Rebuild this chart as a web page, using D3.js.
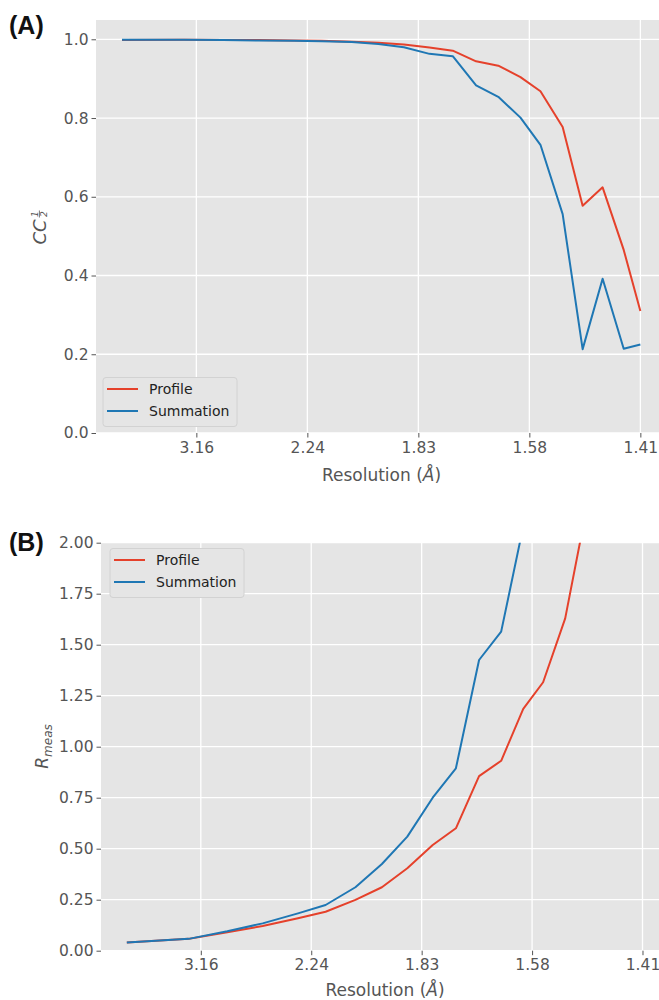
<!DOCTYPE html>
<html>
<head>
<meta charset="utf-8">
<script src="https://cdn.jsdelivr.net/npm/d3@7"></script>
<style>
    body { margin: 0; background: #fff; }
    svg { display: block; font-family: "DejaVu Sans", sans-serif; }
</style>
</head>
<body>
<svg id="chart" width="659" height="1000"></svg>
<script>
// x = 1/d^2, bins
var invResSq = [0.033, 0.089, 0.124, 0.156, 0.188, 0.213, 0.240, 0.264, 0.287, 0.310,
                0.331, 0.352, 0.372, 0.392, 0.410, 0.430, 0.448, 0.466, 0.485, 0.500];

// panel A : CC 1/2
var ccProfile   = [0.998, 0.999, 0.998, 0.998, 0.997, 0.996, 0.994, 0.991, 0.987, 0.979,
                   0.971, 0.944, 0.933, 0.904, 0.868, 0.777, 0.577, 0.624, 0.465, 0.310];
var ccSummation = [0.999, 0.999, 0.998, 0.997, 0.996, 0.995, 0.993, 0.988, 0.980, 0.963,
                   0.957, 0.883, 0.854, 0.801, 0.732, 0.556, 0.213, 0.392, 0.214, 0.225];

// panel B : Rmeas (higher bins run off the top of the axes)
var rmeasProfile   = [0.040, 0.058, 0.090, 0.121, 0.159, 0.191, 0.249, 0.311, 0.404, 0.518,
                      0.600, 0.856, 0.931, 1.185, 1.316, 1.629, 2.13];
var rmeasSummation = [0.040, 0.058, 0.095, 0.134, 0.183, 0.224, 0.311, 0.425, 0.559, 0.750,
                      0.894, 1.425, 1.564, 2.08];

var resTicks = [0.1, 0.2, 0.3, 0.4, 0.5];          // 1/d^2, labelled as d
var ccTicks = [0.0, 0.2, 0.4, 0.6, 0.8, 1.0];
var rmeasTicks = [0.00, 0.25, 0.50, 0.75, 1.00, 1.25, 1.50, 1.75, 2.00];
var seriesNames = ['Profile', 'Summation'];
var seriesColors = ['#e5412b', '#1f77b4'];

var svg = d3.select('#chart');
var tickColor = '#555';

function drawPanel(cfg) {
    var g = svg.append('g');
    var x = d3.scaleLinear().domain([0.0096, 0.524]).range([cfg.left, cfg.right]);
    var y = d3.scaleLinear().domain(cfg.yDomain).range([cfg.bottom, cfg.top]);

    g.append('rect')
        .attr('x', cfg.left).attr('y', cfg.top)
        .attr('width', cfg.right - cfg.left).attr('height', cfg.bottom - cfg.top)
        .attr('fill', '#e5e5e5');

    var clipId = 'clip' + cfg.tag;
    svg.append('clipPath').attr('id', clipId).append('rect')
        .attr('x', cfg.left).attr('y', cfg.top)
        .attr('width', cfg.right - cfg.left).attr('height', cfg.bottom - cfg.top);

    // grid
    g.selectAll('.vgrid').data(resTicks).enter().append('line')
        .attr('x1', function(d) { return x(d); }).attr('x2', function(d) { return x(d); })
        .attr('y1', cfg.top).attr('y2', cfg.bottom)
        .attr('stroke', '#fff').attr('stroke-width', 1.3);
    g.selectAll('.hgrid').data(cfg.yTicks).enter().append('line')
        .attr('x1', cfg.left).attr('x2', cfg.right)
        .attr('y1', function(d) { return y(d); }).attr('y2', function(d) { return y(d); })
        .attr('stroke', '#fff').attr('stroke-width', 1.3);

    // axes
    var xAxis = d3.axisBottom(x).tickValues(resTicks).tickSize(4.5).tickPadding(4)
        .tickFormat(function(v) { return (1 / Math.sqrt(v)).toFixed(2); });
    var yAxis = d3.axisLeft(y).tickValues(cfg.yTicks).tickSize(4.5).tickPadding(3)
        .tickFormat(d3.format(cfg.yFormat));

    var gx = g.append('g').attr('transform', 'translate(0,' + cfg.bottom + ')').call(xAxis);
    var gy = g.append('g').attr('transform', 'translate(' + cfg.left + ',0)').call(yAxis);
    [gx, gy].forEach(function(ax) {
        ax.select('.domain').remove();
        ax.selectAll('line').attr('stroke', tickColor).attr('stroke-width', 1);
        ax.selectAll('text').attr('fill', tickColor)
            .style('font-family', '"DejaVu Sans", sans-serif').style('font-size', '15.5px');
    });

    // lines
    var series = [cfg.profile, cfg.summation];
    var line = d3.line()
        .x(function(d, i) { return x(invResSq[i]); })
        .y(function(d) { return y(d); });
    var lg = g.append('g').attr('clip-path', 'url(#' + clipId + ')');
    series.forEach(function(vals, k) {
        lg.append('path').datum(vals)
            .attr('d', line)
            .attr('fill', 'none')
            .attr('stroke', seriesColors[k])
            .attr('stroke-width', 2)
            .attr('stroke-linejoin', 'round');
    });

    // x label
    var xl = g.append('text')
        .attr('x', (cfg.left + cfg.right) / 2).attr('y', cfg.bottom + cfg.xLabelDy)
        .attr('text-anchor', 'middle').attr('fill', tickColor)
        .style('font-size', '17px');
    xl.append('tspan').text('Resolution (');
    xl.append('tspan').style('font-style', 'italic').text('Å');
    xl.append('tspan').text(')');

    // y label
    cfg.yLabel(g.append('g').attr('transform', 'translate(' + cfg.yLabelX + ',' + (cfg.top + cfg.bottom) / 2 + ') rotate(-90)'));

    // legend
    var lgd = g.append('g').attr('transform', 'translate(' + cfg.legend[0] + ',' + cfg.legend[1] + ')');
    lgd.append('rect')
        .attr('width', 134).attr('height', 49).attr('rx', 3)
        .attr('fill', '#e5e5e5').attr('stroke', '#d2d2d2').attr('stroke-width', 1);
    seriesNames.forEach(function(name, k) {
        var yy = 11.5 + k * 22;
        lgd.append('line')
            .attr('x1', 4).attr('x2', 35).attr('y1', yy).attr('y2', yy)
            .attr('stroke', seriesColors[k]).attr('stroke-width', 2);
        lgd.append('text')
            .attr('x', 46).attr('y', yy + 5)
            .attr('fill', '#222').style('font-size', '14px')
            .text(name);
    });

    // panel tag
    svg.append('text')
        .attr('x', 9).attr('y', cfg.tagY)
        .style('font-family', '"Liberation Sans", Arial, sans-serif')
        .style('font-weight', 'bold').style('font-size', '25px')
        .attr('fill', '#111')
        .text('(' + cfg.tag + ')');
}

drawPanel({
    tag: 'A', tagY: 34,
    left: 96, right: 667, top: 20, bottom: 433,
    yDomain: [0, 1.049], yTicks: ccTicks, yFormat: '.1f',
    profile: ccProfile, summation: ccSummation,
    legend: [103, 377.5],
    xLabelDy: 48,
    yLabelX: 46,
    yLabel: function(lab) {
        lab.append('text').attr('x', -18).attr('y', 0)
            .attr('fill', tickColor).style('font-size', '18px').style('font-style', 'italic')
            .text('CC');
        lab.append('text').attr('x', 12.5).attr('y', -7.8).attr('text-anchor', 'middle')
            .attr('fill', tickColor).style('font-size', '9px').style('font-style', 'italic').text('1');
        lab.append('line').attr('x1', 9).attr('x2', 16).attr('y1', -6.6).attr('y2', -6.6)
            .attr('stroke', tickColor).attr('stroke-width', 0.8);
        lab.append('text').attr('x', 12.5).attr('y', 1.2).attr('text-anchor', 'middle')
            .attr('fill', tickColor).style('font-size', '9px').style('font-style', 'italic').text('2');
    }
});

drawPanel({
    tag: 'B', tagY: 551,
    left: 101, right: 669, top: 542.7, bottom: 950.7,
    yDomain: [0, 2], yTicks: rmeasTicks, yFormat: '.2f',
    profile: rmeasProfile, summation: rmeasSummation,
    legend: [110, 548.5],
    xLabelDy: 45,
    yLabelX: 48,
    yLabel: function(lab) {
        var t = lab.append('text').attr('x', -22).attr('y', 0)
            .attr('fill', tickColor).style('font-style', 'italic');
        t.append('tspan').style('font-size', '17px').text('R');
        t.append('tspan').attr('dy', 3.5).style('font-size', '12px').text('meas');
    }
});
</script>
</body>
</html>
